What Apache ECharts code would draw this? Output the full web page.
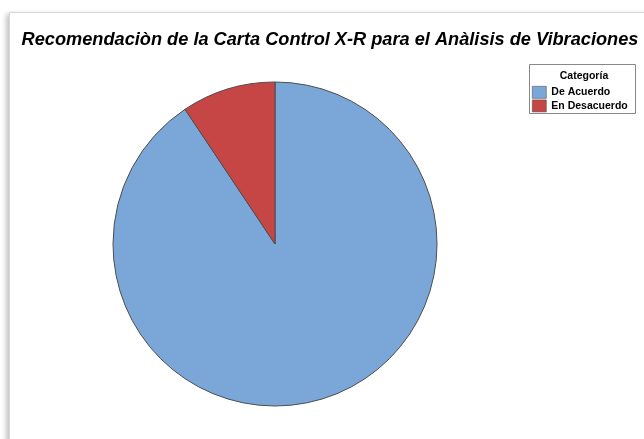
<!DOCTYPE html>
<html>
<head>
<meta charset="utf-8">
<script src="https://cdn.jsdelivr.net/npm/echarts@6/dist/echarts.min.js"></script>
<style>
    html, body { margin: 0; padding: 0; background: #fff; }
    #frame {
        position: absolute; left: 9px; top: 12px; width: 700px; height: 500px;
        border: 1px solid #d8d8d8; box-shadow: -3px 2px 5px #c4c4c4; background: #fff;
    }
    #chart { position: absolute; left: 0; top: 0; width: 644px; height: 439px; }
</style>
</head>
<body>
<div id="frame"></div>
<div id="chart"></div>
<script>
// datos del grafico
const categorias = ['De Acuerdo', 'En Desacuerdo']
const valores = [29, 3]
const colores = ['#7BA6D8', '#C64545']

const chart = echarts.init(document.getElementById('chart'))

let data = []
for (let i = 0; i < categorias.length; i++) {
    data.push({ name: categorias[i], value: valores[i], itemStyle: { color: colores[i] } })
}

const option = {
    animation: false,
    title: {
        text: 'Recomendaciòn de la Carta Control X-R para el Anàlisis de Vibraciones',
        left: 325,
        top: 26,
        textAlign: 'center',
        textStyle: {
            fontFamily: 'Liberation Sans',
            fontSize: 18.2,
            fontWeight: 'bold',
            fontStyle: 'italic',
            color: '#000'
        }
    },
    graphic: [
        {
            type: 'rect',
            shape: { x: 529.5, y: 64.5, width: 106, height: 49 },
            style: { fill: '#fff', stroke: '#888', lineWidth: 1 }
        },
        {
            type: 'text',
            x: 584, y: 71,
            style: {
                text: 'Categoría', align: 'center',
                font: 'bold 10.5px "Liberation Sans"', fill: '#000'
            }
        }
    ],
    legend: {
        orient: 'vertical',
        left: 528,
        top: 86,
        itemWidth: 14,
        itemHeight: 12,
        itemGap: 1,
        icon: 'rect',
        padding: [0, 0, 0, 4],
        itemStyle: { borderColor: '#555', borderWidth: 0.6 },
        textStyle: { fontFamily: 'Liberation Sans', fontSize: 10.5, fontWeight: 'bold', color: '#000', padding: [0, 0, 0, 0] },
        data: categorias
    },
    series: [
        {
            type: 'pie',
            center: [275, 244],
            radius: 162,
            startAngle: 90,
            clockwise: true,
            label: { show: false },
            labelLine: { show: false },
            emphasis: { disabled: true },
            itemStyle: { borderColor: '#4d4d4d', borderWidth: 1 },
            data: data
        }
    ]
}
chart.setOption(option)
</script>
</body>
</html>
